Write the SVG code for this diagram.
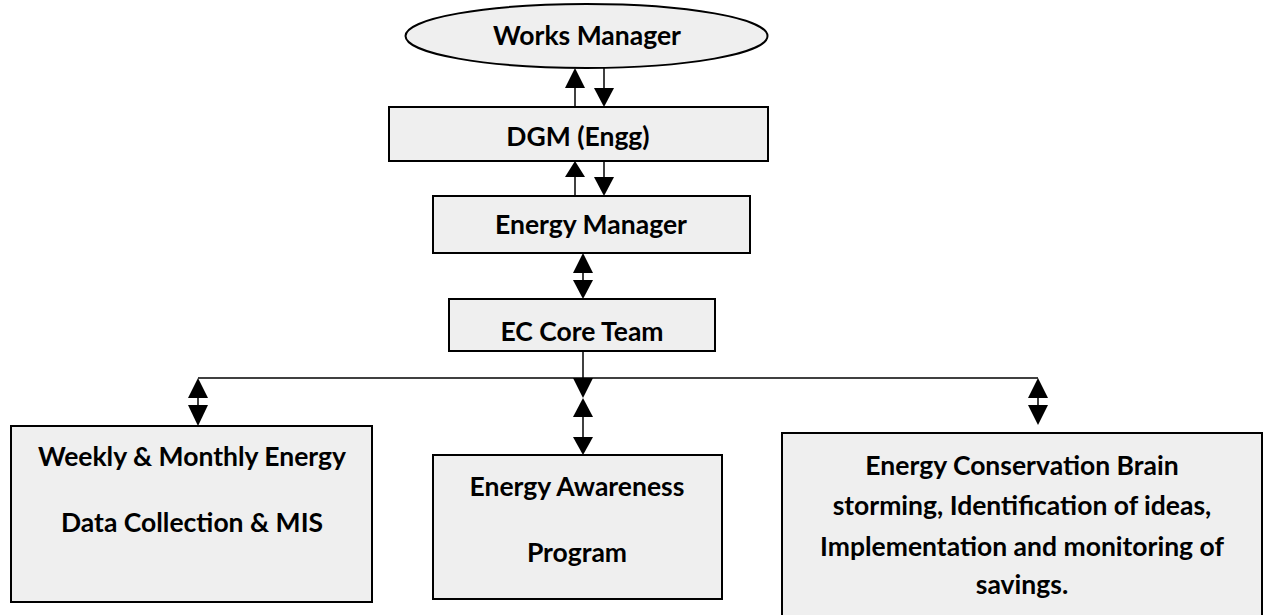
<svg xmlns="http://www.w3.org/2000/svg" width="1267" height="615" viewBox="0 0 1267 615">
<style>
.box{fill:#efefef;stroke:#000;stroke-width:2}
.t{font-family:Lato,"Liberation Sans",sans-serif;font-weight:bold;font-size:26.5px;text-anchor:middle;fill:#000}
.ln{stroke:#000;stroke-width:1.5;fill:none}
.ah{fill:#000}
</style>
<rect width="1267" height="615" fill="#fff"/>
<g id="works-manager">
<ellipse class="box" cx="586.5" cy="36" rx="181" ry="32"/>
<text class="t" x="587" y="45">Works Manager</text>
</g>
<g id="dgm">
<rect class="box" x="389" y="107" width="379" height="54"/>
<text class="t" x="578" y="146">DGM (Engg)</text>
</g>
<g id="energy-manager">
<rect class="box" x="433" y="196" width="317" height="57"/>
<text class="t" x="591" y="234">Energy Manager</text>
</g>
<g id="ec-core-team">
<rect class="box" x="449" y="299" width="266" height="52"/>
<text class="t" x="582" y="341">EC Core Team</text>
</g>
<g id="data-collection">
<rect class="box" x="11" y="426" width="361" height="176"/>
<text class="t" x="192" y="466">Weekly &amp; Monthly Energy</text>
<text class="t" x="192" y="532">Data Collection &amp; MIS</text>
</g>
<g id="awareness">
<rect class="box" x="433" y="455" width="289" height="144"/>
<text class="t" x="577" y="496">Energy Awareness</text>
<text class="t" x="577" y="562">Program</text>
</g>
<g id="brainstorming">
<rect class="box" x="782" y="433" width="480" height="190"/>
<text class="t" x="1022" y="475">Energy Conservation Brain</text>
<text class="t" x="1022" y="515">storming, Identification of ideas,</text>
<text class="t" x="1022" y="556">Implementation and monitoring of</text>
<text class="t" x="1022" y="594">savings.</text>
</g>
<g id="connectors">
<line class="ln" x1="575" y1="88" x2="575" y2="107"/>
<polygon class="ah" points="575,68 565,88 585,88"/>
<line class="ln" x1="604" y1="68" x2="604" y2="88"/>
<polygon class="ah" points="604,107 594,88 614,88"/>
<line class="ln" x1="575" y1="177" x2="575" y2="196"/>
<polygon class="ah" points="575,161 565,177 585,177"/>
<line class="ln" x1="604" y1="161" x2="604" y2="177"/>
<polygon class="ah" points="604,196 594,177 614,177"/>
<polygon class="ah" points="583,253 573,273 593,273"/>
<line class="ln" x1="583" y1="273" x2="583" y2="280"/>
<polygon class="ah" points="583,299 573,280 593,280"/>
<line class="ln" x1="583" y1="351" x2="583" y2="378"/>
<line class="ln" x1="198" y1="378" x2="1038" y2="378"/>
<polygon class="ah" points="583,398 573,378 593,378"/>
<polygon class="ah" points="583,398 573,417 593,417"/>
<line class="ln" x1="583" y1="417" x2="583" y2="438"/>
<polygon class="ah" points="583,455 573,437 593,437"/>
<polygon class="ah" points="198,378 188,398 208,398"/>
<line class="ln" x1="198" y1="398" x2="198" y2="405"/>
<polygon class="ah" points="198,426 188,405 208,405"/>
<polygon class="ah" points="1038,378 1028,398 1048,398"/>
<line class="ln" x1="1038" y1="398" x2="1038" y2="405"/>
<polygon class="ah" points="1038,425 1028,405 1048,405"/>
</g>
</svg>
